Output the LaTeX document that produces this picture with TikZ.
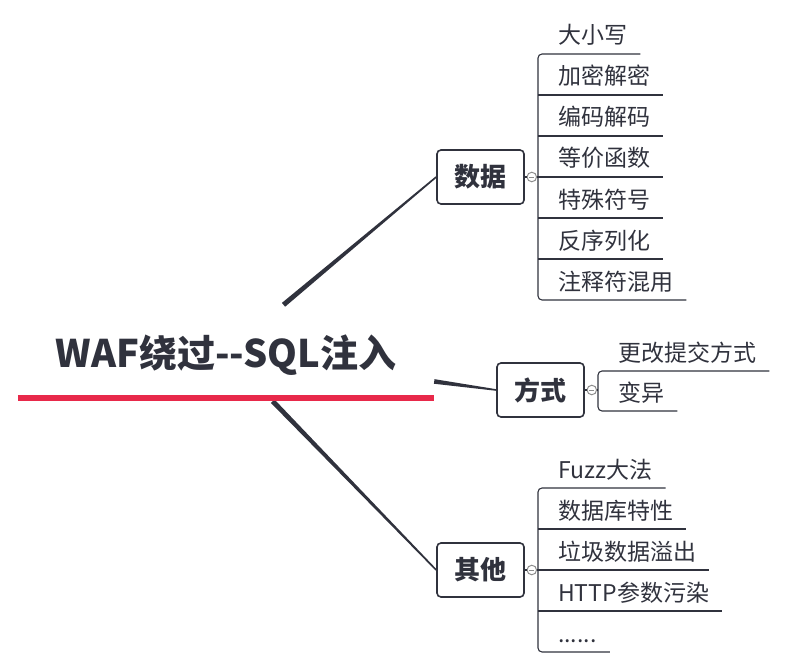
\documentclass[tikz,border=0pt]{standalone}
\usepackage{fontspec}
\setmainfont{Noto Sans CJK SC}
\usetikzlibrary{calc}

\definecolor{ink}{HTML}{30323D}
\definecolor{accent}{HTML}{E8294A}
\definecolor{knobgray}{HTML}{8C8C8C}

% tapered branch: wide at the first point, narrow at the second
\newcommand\taper[4]{%
  \fill[ink] ($(#1)!#3!90:(#2)$) -- ($(#2)!#4!-90:(#1)$)
    -- ($(#2)!#4!90:(#1)$) -- ($(#1)!#3!-90:(#2)$) -- cycle;}

\tikzset{
  central/.style={rectangle, minimum width=416pt, minimum height=96pt, inner sep=0pt},
  topicbox/.style={draw=ink, line width=1.6pt, rounded corners=4pt,
    minimum width=87pt, minimum height=54pt, inner sep=0pt,
    font=\bfseries\fontsize{26}{30}\selectfont, text=ink},
  leaf/.style={anchor=base west, inner xsep=0pt, inner ysep=2pt,
    font=\fontsize{23}{27}\selectfont, text=ink},
  wire/.style={draw=ink, line width=1.1pt},
  knob/.style={circle, draw=knobgray, fill=white, line width=1pt,
    minimum size=9.5pt, inner sep=0pt},
}

\begin{document}
\begin{tikzpicture}[x=1pt, y=-1pt]
\useasboundingbox (0,0) rectangle (786,668);

% central topic with its red underline
\node[central] (root) at (226,353) {};
\node[font=\bfseries\fontsize{38}{44}\selectfont, text=ink, inner sep=0pt]
  (title) at (226,355) {WAF绕过-{}-SQL注入};

% main topics
\node[topicbox] (data) at (480.5,177) {数据};
\node[topicbox] (mode) at (540.5,390) {方式};
\node[topicbox] (misc) at (480.5,570) {其他};

% tapered branches from the central topic
\path (root) -- (data.west) coordinate[pos=0] (r1);
\path (root) -- (mode.west) coordinate[pos=0] (r2);
\path (root) -- (misc.west) coordinate[pos=0] (r3);
\taper{r1}{data.west}{2.5pt}{0.8pt}
\taper{r2}{mode.west}{2.3pt}{0.8pt}
\taper{r3}{misc.west}{2.5pt}{0.8pt}

\draw[accent, line width=6pt] ($(root.south west)+(0,3pt)$) -- ($(root.south east)+(0,3pt)$);

% collapse knobs
\foreach \t in {data,mode,misc}{
  \node[knob] (k\t) at ($(\t.east)+(7pt,0)$) {};
  \draw[knobgray, line width=0.9pt] ($(k\t.center)+(-2.6pt,0)$) -- ($(k\t.center)+(2.6pt,0)$);
  \draw[wire] (\t.east) -- (k\t.west);
}

% --- 数据 ---
\coordinate (dx) at (538,0);
\foreach \t [count=\i from 0] in {大小写,加密解密,编码解码,等价函数,特殊符号,反序列化,注释符混用}
  \node[leaf] (d\i) at (558,{44+41*\i}) {\t};
\draw[wire, rounded corners=4pt]
  ($(d0.base east)+(13pt,-10pt)$) -- ($(d0.base west)+(-20pt,-10pt)$)
  -- ($(d6.base west)+(-20pt,-10pt)$) -- ($(d6.base east)+(13pt,-10pt)$);
\foreach \i in {1,2,3,4,5}
  \draw[wire] ($(d\i.base west)+(-20pt,-10pt)$) -- ($(d\i.base east)+(13pt,-10pt)$);
\draw[wire] (kdata.east) -- (kdata.east -| dx);

% --- 方式 ---
\coordinate (mx) at (598,0);
\node[leaf] (m0) at (618,361) {更改提交方式};
\node[leaf] (m1) at (618,401) {变异};
\draw[wire, rounded corners=4pt]
  ($(m0.base east)+(13pt,-10pt)$) -- ($(m0.base west)+(-20pt,-10pt)$)
  -- ($(m1.base west)+(-20pt,-10pt)$) -- ($(m1.base east)+(13pt,-10pt)$);
\draw[wire] (kmode.east) -- (kmode.east -| mx);

% --- 其他 ---
\foreach \t [count=\i from 0] in {Fuzz大法,数据库特性,垃圾数据溢出,HTTP参数污染}
  \node[leaf] (o\i) at (558,{478+41*\i}) {\t};
\node[leaf] (o4) at (558,642) {......};
\draw[wire, rounded corners=4pt]
  ($(o0.base east)+(13pt,-10pt)$) -- ($(o0.base west)+(-20pt,-10pt)$)
  -- ($(o4.base west)+(-20pt,-10pt)$) -- ($(o4.base east)+(13pt,-10pt)$);
\foreach \i in {1,2,3}
  \draw[wire] ($(o\i.base west)+(-20pt,-10pt)$) -- ($(o\i.base east)+(13pt,-10pt)$);
\draw[wire] (kmisc.east) -- (kmisc.east -| dx);
\end{tikzpicture}
\end{document}
